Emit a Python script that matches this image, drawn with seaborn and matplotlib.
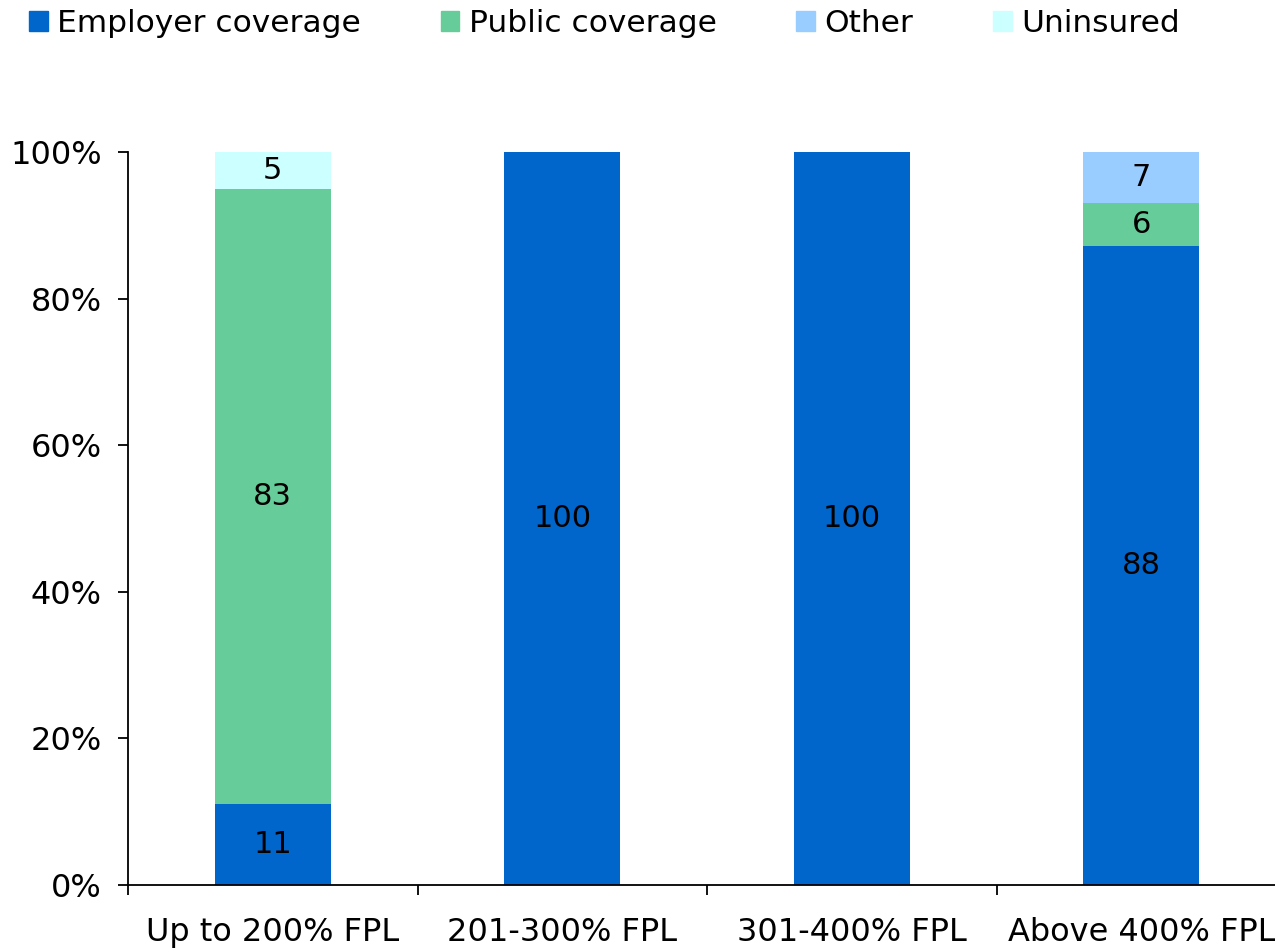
import matplotlib
matplotlib.use("Agg")
import matplotlib.pyplot as plt
import matplotlib.patches as mpatches
from matplotlib.ticker import PercentFormatter, FixedLocator
import numpy as np
import pandas as pd
import seaborn as sns

groups = ["Up to 200% FPL", "201-300% FPL", "301-400% FPL", "Above 400% FPL"]
series = ["Employer coverage", "Public coverage", "Other", "Uninsured"]
employer = [11, 100, 100, 88]
public = [83, 0, 0, 6]
other = [0, 0, 0, 7]
uninsured = [5, 0, 0, 0]
colors = ["#0066CC", "#66CC99", "#99CCFF", "#CCFFFF"]

sns.set_style("white")
plt.rcParams["font.family"] = ["DejaVu Sans"]
plt.rcParams["text.color"] = "black"
plt.rcParams["xtick.color"] = "black"
plt.rcParams["ytick.color"] = "black"
FS = 23

df = pd.DataFrame({"group": groups, "Employer coverage": employer,
                   "Public coverage": public, "Other": other, "Uninsured": uninsured})
vals = df[series].to_numpy(dtype=float)
shares = vals / vals.sum(axis=1, keepdims=True) * 100
cum = shares.cumsum(axis=1)

fig = plt.figure(figsize=(12.75, 9.48), dpi=100)
ax = fig.add_axes([0.1004, 0.0665, 0.9083, 0.7732])

# draw tallest stack first, then overlay the lower segments
for i in range(len(series) - 1, -1, -1):
    sns.barplot(x=df["group"], y=cum[:, i], color=colors[i], width=0.4,
                saturation=1, linewidth=0, ax=ax, zorder=2)

for j in range(len(groups)):
    for i in range(len(series)):
        if vals[j, i] > 0:
            mid = cum[j, i] - shares[j, i] / 2
            ax.text(j, mid, f"{vals[j, i]:.0f}", ha="center", va="center",
                    fontsize=22, color="black", zorder=3)

ax.set_xlim(-0.5, 3.5)
ax.set_ylim(0, 100)
ax.set_yticks(np.arange(0, 101, 20))
ax.yaxis.set_major_formatter(PercentFormatter(decimals=0))
ax.set_xlabel("")
ax.set_ylabel("")
ax.xaxis.set_minor_locator(FixedLocator([-0.5, 0.5, 1.5, 2.5, 3.5]))
ax.tick_params(axis="x", which="major", length=0, pad=23, labelsize=FS)
ax.tick_params(axis="x", which="minor", length=7, width=1.3, direction="out", bottom=True)
ax.tick_params(axis="y", length=7, width=1.3, direction="out", pad=12, labelsize=FS, left=True)
sns.despine(ax=ax, top=True, right=True)
for s in ["left", "bottom"]:
    ax.spines[s].set_linewidth(1.3)
    ax.spines[s].set_color("black")

handles = [mpatches.Patch(color=c, label=s) for c, s in zip(colors, series)]
fig.legend(handles=handles, loc="upper left", bbox_to_anchor=(0.008, 1.01), ncol=4,
           frameon=False, fontsize=22.5, handlelength=0.6, handleheight=0.6,
           handletextpad=0.3, columnspacing=2.55, borderaxespad=0.2)

fig.savefig("out.png", dpi=100)
